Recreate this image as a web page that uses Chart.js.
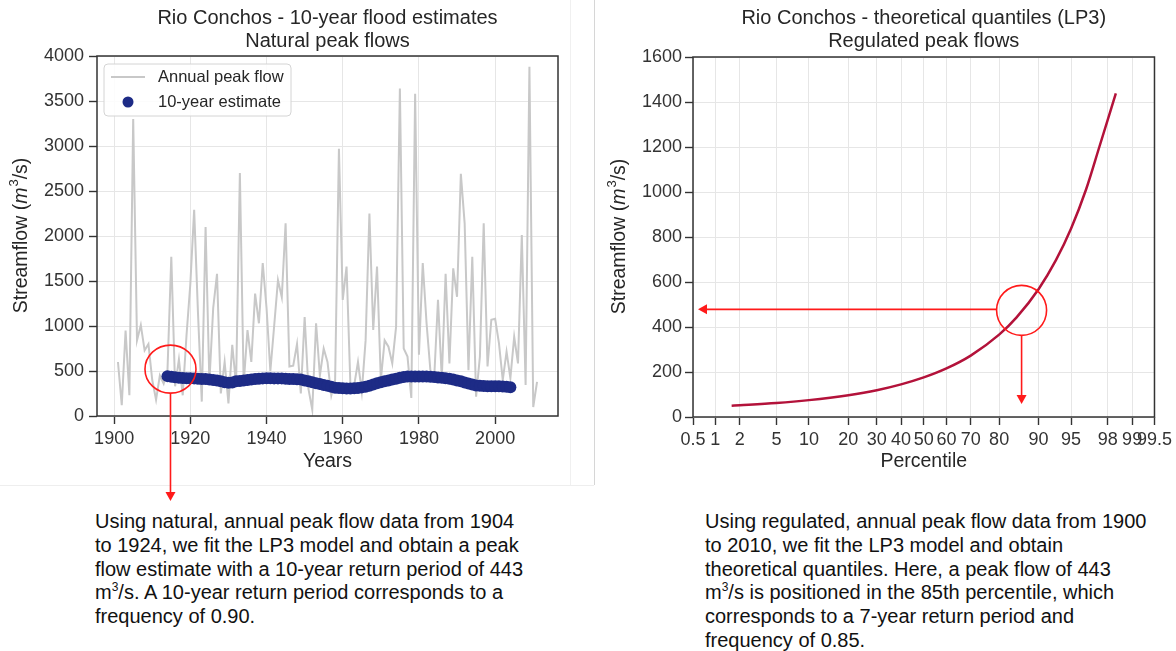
<!DOCTYPE html>
<html><head><meta charset="utf-8">
<script src="https://cdn.jsdelivr.net/npm/chart.js@4.4.0/dist/chart.umd.min.js"></script>
<style>
html,body{margin:0;padding:0;background:#fff;}
body{width:1176px;height:651px;position:relative;overflow:hidden;font-family:"Liberation Sans",Arial,sans-serif;}
canvas{position:absolute;top:0;}
#c1{left:0;}
#c2{left:597px;}
.sep{position:absolute;}
.txt{position:absolute;top:510px;font-size:20px;line-height:23.75px;color:#111;white-space:nowrap;}
.txt sup{font-size:12px;line-height:0;vertical-align:8px;}
</style></head>
<body>
<div class="sep" style="left:570px;top:0;width:1px;height:485px;background:#f0f0f0"></div>
<div class="sep" style="left:594px;top:0;width:1px;height:485px;background:#d6d6d6"></div>
<div class="sep" style="left:0;top:485px;width:594px;height:1px;background:#eeeeee"></div>
<canvas id="c1" width="590" height="505"></canvas>
<canvas id="c2" width="579" height="505"></canvas>
<div class="txt" style="left:95px">Using natural, annual peak flow data from 1904<br>to 1924, we fit the LP3 model and obtain a peak<br>flow estimate with a 10-year return period of 443<br>m<sup>3</sup>/s. A 10-year return period corresponds to a<br>frequency of 0.90.</div>
<div class="txt" style="left:705px">Using regulated, annual peak flow data from 1900<br>to 2010, we fit the LP3 model and obtain<br>theoretical quantiles. Here, a peak flow of 443<br>m<sup>3</sup>/s is positioned in the 85th percentile, which<br>corresponds to a 7-year return period and<br>frequency of 0.85.</div>
<script>
// ---------- data ----------
const years = [1901,1902,1903,1904,1905,1906,1907,1908,1909,1910,1911,1912,1913,1914,1915,1916,1917,1918,1919,1920,
1921,1922,1923,1924,1925,1926,1927,1928,1929,1930,1931,1932,1933,1934,1935,1936,1937,1938,1939,1940,
1941,1942,1943,1944,1945,1946,1947,1948,1949,1950,1951,1952,1953,1954,1955,1956,1957,1958,1959,1960,
1961,1962,1963,1964,1965,1966,1967,1968,1969,1970,1971,1972,1973,1974,1975,1976,1977,1978,1979,1980,
1981,1982,1983,1984,1985,1986,1987,1988,1989,1990,1991,1992,1993,1994,1995,1996,1997,1998,1999,2000,
2001,2002,2003,2004,2005,2006,2007,2008,2009,2010,2011];
const peakFlow = [600,120,950,230,3300,840,1010,730,800,400,180,450,360,510,1770,330,630,230,900,1470,
2290,1150,160,2100,380,1200,1580,250,600,140,790,350,2700,360,955,600,1360,1030,1700,1200,
500,1000,1510,1320,2140,550,560,800,250,1100,300,70,1030,450,750,600,230,400,2970,1290,
1660,360,340,600,270,840,2250,955,1660,400,840,770,585,990,3640,750,660,200,3580,680,
1700,1030,510,420,1290,420,1580,585,1640,1325,2690,2140,510,1770,215,660,2140,550,1070,1080,
810,400,715,420,880,585,2010,345,3880,100,380];
const estYears = [1914,1915,1916,1917,1918,1919,1920,1921,1922,1923,1924,1925,1926,1927,1928,1929,1930,1931,1932,1933,
1934,1935,1936,1937,1938,1939,1940,1941,1942,1943,1944,1945,1946,1947,1948,1949,1950,1951,1952,1953,
1954,1955,1956,1957,1958,1959,1960,1961,1962,1963,1964,1965,1966,1967,1968,1969,1970,1971,1972,1973,
1974,1975,1976,1977,1978,1979,1980,1981,1982,1983,1984,1985,1986,1987,1988,1989,1990,1991,1992,1993,
1994,1995,1996,1997,1998,1999,2000,2001,2002,2003,2004];
const estFlow = [443,435,430,425,422,420,420,418,415,412,410,405,400,395,385,375,370,372,385,390,
395,400,405,410,415,418,420,420,418,418,418,415,412,410,408,405,395,385,375,365,
355,345,335,325,315,310,308,305,305,308,312,318,325,335,350,365,375,385,395,405,
415,425,432,438,440,440,440,440,438,435,432,428,425,420,415,405,395,385,372,360,
350,340,335,332,330,330,330,330,328,325,320];
const pctTicks = [0.5,1,2,5,10,20,30,40,50,60,70,80,90,95,98,99,99.5];
const pctTickLabels = ["0.5","1","2","5","10","20","30","40","50","60","70","80","90","95","98","99","99.5"];
const curvePct = [1.6,2,5,10,20,30,40,50,60,70,80,85,90,93,95,96.5,97.5,98.4];
const curveFlow = [50,52,62,75,97,119,145,176,216,273,366,443,568,697,838,1011,1200,1438];
const leftYTicks = [0,500,1000,1500,2000,2500,3000,3500,4000];
const leftXTicks = [1900,1920,1940,1960,1980,2000];
const rightYTicks = [0,200,400,600,800,1000,1200,1400,1600];

// inverse normal CDF (probability-axis transform)
function probit(p){
 const a=[-3.969683028665376e+01,2.209460984245205e+02,-2.759285104469687e+02,1.383577518672690e+02,-3.066479806614716e+01,2.506628277459239e+00];
 const b=[-5.447609879822406e+01,1.615858368580409e+02,-1.556989798598866e+02,6.680131188771972e+01,-1.328068155288572e+01];
 const c=[-7.784894002430293e-03,-3.223964580411365e-01,-2.400758277161838e+00,-2.549732539343734e+00,4.374664141464968e+00,2.938163982698783e+00];
 const d=[7.784695709041462e-03,3.224671290700398e-01,2.445134137142996e+00,3.754408661907416e+00];
 const pl=0.02425, ph=1-pl; let q,r;
 if(p<pl){q=Math.sqrt(-2*Math.log(p));return (((((c[0]*q+c[1])*q+c[2])*q+c[3])*q+c[4])*q+c[5])/((((d[0]*q+d[1])*q+d[2])*q+d[3])*q+1);}
 if(p<=ph){q=p-0.5;r=q*q;return (((((a[0]*r+a[1])*r+a[2])*r+a[3])*r+a[4])*r+a[5])*q/(((((b[0]*r+b[1])*r+b[2])*r+b[3])*r+b[4])*r+1);}
 q=Math.sqrt(-2*Math.log(1-p));return -(((((c[0]*q+c[1])*q+c[2])*q+c[3])*q+c[4])*q+c[5])/((((d[0]*q+d[1])*q+d[2])*q+d[3])*q+1);
}

// ---------- style ----------
const FONT = '"Liberation Sans", Arial, sans-serif';
const TXT = '#262626';
const GREY = 'rgb(200,200,200)';
const NAVY = '#1d2b86';
const CRIMSON = '#b3123a';
const RED = '#ff1a1a';
Chart.defaults.font.family = FONT;
Chart.defaults.color = '#333';

function gridOpts(){
  return {color:'#e6e6e6', lineWidth:1, drawTicks:true, tickLength:8, tickColor:'#333', tickWidth:1.4};
}

function drawYTitle(ctx, cx, cy){
  const f = 19.5;
  const parts = [
    {t:'Streamflow (', font:`${f}px ${FONT}`, dy:0},
    {t:'m', font:`italic ${f}px ${FONT}`, dy:0},
    {t:'3', font:`${Math.round(f*0.68)}px ${FONT}`, dy:-f*0.38},
    {t:'/s)', font:`${f}px ${FONT}`, dy:0}
  ];
  ctx.save();
  ctx.translate(cx, cy); ctx.rotate(-Math.PI/2);
  ctx.fillStyle = TXT; ctx.textBaseline = 'middle'; ctx.textAlign = 'left';
  let total = 0;
  parts.forEach(p=>{ctx.font=p.font; p.w=ctx.measureText(p.t).width; total+=p.w;});
  let x = -total/2;
  parts.forEach(p=>{ctx.font=p.font; ctx.fillText(p.t, x, p.dy); x+=p.w + (p.t==='m'?1:0);});
  ctx.restore();
}

function arrowHead(ctx, x, y, dir){
  ctx.beginPath();
  if(dir==='down'){ctx.moveTo(x,y);ctx.lineTo(x-5,y-9);ctx.lineTo(x+5,y-9);}
  else {ctx.moveTo(x,y);ctx.lineTo(x+9,y-5);ctx.lineTo(x+9,y+5);}
  ctx.closePath(); ctx.fill();
}

const decor = {
  id:'decor',
  afterDraw(chart, args, opts){
    const ctx = chart.ctx, a = chart.chartArea;
    ctx.save();
    ctx.strokeStyle = '#333'; ctx.lineWidth = 1.5;
    ctx.strokeRect(a.left, a.top, a.right-a.left, a.bottom-a.top);
    ctx.fillStyle = TXT; ctx.font = `20px ${FONT}`; ctx.textAlign='center'; ctx.textBaseline='middle';
    const cx = (a.left+a.right)/2;
    ctx.fillText(opts.title[0], cx, 18);
    ctx.fillText(opts.title[1], cx, 41);
    ctx.font = `19.5px ${FONT}`;
    ctx.fillText(opts.xTitle, cx, 462);
    ctx.restore();
    drawYTitle(ctx, opts.yTitleX, (a.top+a.bottom)/2);
    if(opts.extra) opts.extra(chart);
  }
};

// ---------- left chart ----------
new Chart(document.getElementById('c1'), {
  type:'line',
  data:{datasets:[
    {label:'Annual peak flow', data:years.map((y,i)=>({x:y,y:peakFlow[i]})), borderColor:GREY, borderWidth:2, pointRadius:0, fill:false, tension:0, order:2},
    {label:'10-year estimate', data:estYears.map((y,i)=>({x:y,y:estFlow[i]})), showLine:false, pointRadius:6, pointBackgroundColor:NAVY, pointBorderColor:NAVY, pointBorderWidth:0, order:1}
  ]},
  options:{
    responsive:false, animation:false, events:[],
    layout:{padding:{left:0, top:56, right:32, bottom:39}},
    scales:{
      x:{type:'linear', min:1895.5, max:2016.5,
         afterBuildTicks:s=>{s.ticks = leftXTicks.map(v=>({value:v}));},
         afterFit:s=>{s.height=50;},
         grid:gridOpts(), border:{display:false},
         ticks:{font:{size:18}, color:'#333', padding:4, maxRotation:0, autoSkip:false, callback:v=>String(v)}},
      y:{type:'linear', min:0, max:4000,
         afterBuildTicks:s=>{s.ticks = leftYTicks.map(v=>({value:v}));},
         afterFit:s=>{s.width=97;},
         grid:gridOpts(), border:{display:false},
         ticks:{font:{size:18}, color:'#333', padding:5, callback:v=>String(v)}}
    },
    plugins:{
      legend:{display:false}, tooltip:{enabled:false},
      decor:{title:['Rio Conchos - 10-year flood estimates','Natural peak flows'], xTitle:'Years', yTitleX:22,
        extra:(chart)=>{
          const ctx=chart.ctx, a=chart.chartArea;
          const ds = chart.data.datasets;
          const bx=a.left+7, by=a.top+8, bw=187, bh=52;
          ctx.save();
          ctx.fillStyle='rgba(255,255,255,0.85)'; ctx.strokeStyle='#d4d4d4'; ctx.lineWidth=1;
          ctx.beginPath(); ctx.roundRect(bx,by,bw,bh,4); ctx.fill(); ctx.stroke();
          ctx.strokeStyle=GREY; ctx.lineWidth=2;
          ctx.beginPath(); ctx.moveTo(bx+7,by+13); ctx.lineTo(bx+41,by+13); ctx.stroke();
          ctx.fillStyle=NAVY; ctx.beginPath(); ctx.arc(bx+24,by+38,5.5,0,Math.PI*2); ctx.fill();
          ctx.fillStyle=TXT; ctx.font=`16.5px ${FONT}`; ctx.textAlign='left'; ctx.textBaseline='middle';
          ctx.fillText(ds[0].label, bx+54, by+13);
          ctx.fillText(ds[1].label, bx+54, by+38);
          const px = chart.scales.x.getPixelForValue(estYears[0])+3;
          const py = chart.scales.y.getPixelForValue(estFlow[0])-7;
          ctx.strokeStyle=RED; ctx.fillStyle=RED; ctx.lineWidth=1.6;
          ctx.beginPath(); ctx.ellipse(px,py,25.5,24,0,0,Math.PI*2); ctx.stroke();
          ctx.beginPath(); ctx.moveTo(px,py+24); ctx.lineTo(px,494); ctx.stroke();
          arrowHead(ctx, px, 501, 'down');
          ctx.restore();
        }}
    }
  },
  plugins:[decor]
});

// ---------- right chart ----------
new Chart(document.getElementById('c2'), {
  type:'line',
  data:{datasets:[
    {label:'LP3 quantiles', data:curvePct.map((p,i)=>({x:probit(p/100), y:curveFlow[i]})), borderColor:CRIMSON, borderWidth:2.5, pointRadius:0, fill:false, cubicInterpolationMode:'monotone'}
  ]},
  options:{
    responsive:false, animation:false, events:[],
    layout:{padding:{left:0, top:57, right:21, bottom:39}},
    scales:{
      x:{type:'linear', min:probit(pctTicks[0]/100), max:probit(pctTicks[pctTicks.length-1]/100),
         afterBuildTicks:s=>{s.ticks = pctTicks.map(p=>({value:probit(p/100)}));},
         afterFit:s=>{s.height=49;},
         grid:gridOpts(), border:{display:false},
         ticks:{font:{size:18}, color:'#333', padding:4, maxRotation:0, minRotation:0, autoSkip:false,
                callback:(v,i)=>pctTickLabels[i]}},
      y:{type:'linear', min:0, max:1600,
         afterBuildTicks:s=>{s.ticks = rightYTicks.map(v=>({value:v}));},
         afterFit:s=>{s.width=96;},
         grid:gridOpts(), border:{display:false},
         ticks:{font:{size:18}, color:'#333', padding:3, callback:v=>String(v)}}
    },
    plugins:{
      legend:{display:false}, tooltip:{enabled:false},
      decor:{title:['Rio Conchos - theoretical quantiles (LP3)','Regulated peak flows'], xTitle:'Percentile', yTitleX:23,
        extra:(chart)=>{
          const ctx=chart.ctx, a=chart.chartArea;
          const px = chart.scales.x.getPixelForValue(probit(0.85))+5;
          const py = chart.scales.y.getPixelForValue(443)-7;
          ctx.save();
          ctx.strokeStyle=RED; ctx.fillStyle=RED; ctx.lineWidth=1.6;
          ctx.beginPath(); ctx.ellipse(px,py,25,25,0,0,Math.PI*2); ctx.stroke();
          ctx.beginPath(); ctx.moveTo(px-25,py-1); ctx.lineTo(a.left+13,py-1); ctx.stroke();
          arrowHead(ctx, a.left+5, py-1, 'left');
          ctx.beginPath(); ctx.moveTo(px,py+25); ctx.lineTo(px,395); ctx.stroke();
          arrowHead(ctx, px, 404, 'down');
          ctx.restore();
        }}
    }
  },
  plugins:[decor]
});
</script>
</body></html>
